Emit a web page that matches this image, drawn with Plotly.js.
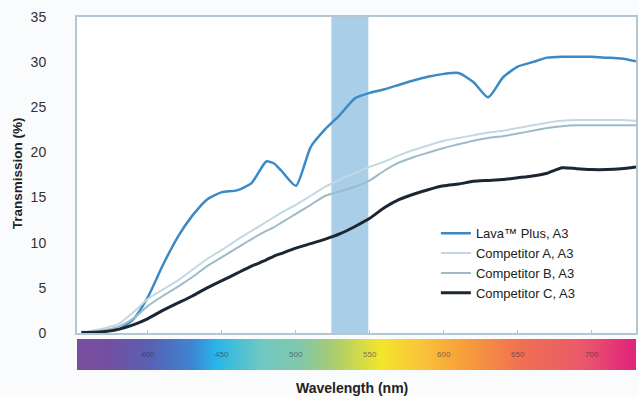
<!DOCTYPE html>
<html>
<head>
<meta charset="utf-8">
<script src="https://cdn.plot.ly/plotly-3.0.1.min.js"></script>
<style>html,body{margin:0;padding:0;background:#fafbfc;}#chart{width:638px;height:396px;}</style>
</head>
<body>
<div id="chart"></div>
<script>
// Wavelength samples (nm)
const wavelengths = [355,360,370,380,390,400,410,420,430,440,450,460,470,480,485,490,500,510,520,530,540,550,560,570,580,590,600,610,620,630,640,650,660,670,680,690,700,710,720,730];
const lavaPlus    = [0.1,0.1,0.2,0.4,1.5,4.0,7.5,10.6,13.0,14.8,15.6,15.8,16.6,19.0,18.8,18.0,16.3,20.6,22.6,24.2,26.0,26.6,27.0,27.5,28.0,28.4,28.7,28.8,27.8,26.1,28.3,29.5,30.0,30.5,30.6,30.6,30.6,30.5,30.4,30.1];
const competitorA = [0.1,0.2,0.5,1.0,2.3,3.8,4.8,5.8,7.0,8.2,9.2,10.3,11.3,12.3,12.8,13.3,14.2,15.2,16.2,17.0,17.7,18.4,19.0,19.7,20.3,20.8,21.3,21.6,21.9,22.2,22.4,22.7,23.0,23.3,23.5,23.6,23.6,23.6,23.6,23.5];
const competitorB = [0.05,0.1,0.3,0.7,1.6,3.0,4.1,5.1,6.2,7.4,8.4,9.4,10.4,11.3,11.7,12.2,13.2,14.2,15.2,15.7,16.2,16.9,18.0,18.9,19.5,20.0,20.5,20.9,21.3,21.6,21.8,22.1,22.4,22.7,22.9,23.0,23.0,23.0,23.0,23.0];
const competitorC = [0.05,0.05,0.15,0.4,0.9,1.6,2.5,3.3,4.1,5.0,5.8,6.6,7.4,8.1,8.5,8.8,9.4,9.9,10.4,11.0,11.8,12.7,13.9,14.8,15.4,15.9,16.3,16.5,16.8,16.9,17.0,17.2,17.4,17.7,18.3,18.2,18.1,18.1,18.2,18.4];

const seriesNames = ['Lava™ Plus, A3','Competitor A, A3','Competitor B, A3','Competitor C, A3'];
const yTicks = [0,5,10,15,20,25,30,35];
const barTicks = [400,450,500,550,600,650,700];
const barTickLabels = ['400','450','500','550','600','650','700'];
const highlightBand = [524,549];

// Spectrum bar colour stops
const specNm = [352,372,400,430,446,476,503,524,557,584,611,652,692,730];
const specColors = ['#7a4e9e','#734fa2','#5a5fb2','#3d86d2','#28b6e8','#6fc8c2','#82c8aa','#a6cc72','#f3e52c','#f9c43a','#f8a13a','#f07052','#eb5a6a','#e0217e'];

const xMin = 352, xMax = 730;
const specX = [];
for (let w = xMin; w <= xMax; w += 1) specX.push(w);
const colorscale = specNm.map((n, i) => [(n - xMin) / (xMax - xMin), specColors[i]]);

const font = 'Liberation Sans, Arial, sans-serif';

const traces = [
  {x: wavelengths, y: competitorA, name: seriesNames[1], mode: 'lines', line: {color: '#c4d8e2', width: 2, shape: 'spline', smoothing: 0.6}},
  {x: wavelengths, y: competitorB, name: seriesNames[2], mode: 'lines', line: {color: '#9dbaca', width: 2, shape: 'spline', smoothing: 0.6}},
  {x: wavelengths, y: competitorC, name: seriesNames[3], mode: 'lines', line: {color: '#1b2733', width: 3, shape: 'spline', smoothing: 0.6}},
  {x: wavelengths, y: lavaPlus, name: seriesNames[0], mode: 'lines', line: {color: '#3b8ac6', width: 2.5, shape: 'spline', smoothing: 0.6}},
  {type: 'heatmap', x: specX, y: [0, 1], z: [specX, specX], colorscale: colorscale, zmin: xMin, zmax: xMax,
   zsmooth: 'best', showscale: false, hoverinfo: 'skip', xaxis: 'x2', yaxis: 'y2', showlegend: false}
];

const annotations = barTicks.map((t, i) => ({
  x: t, y: 0.5, xref: 'x2', yref: 'y2', text: barTickLabels[i], showarrow: false,
  font: {family: font, size: 8, color: 'rgba(40,40,70,0.6)'}
}));
annotations.push({
  xref: 'paper', yref: 'paper', x: -0.107, y: 0.558, text: '<b>Transmission (%)</b>', textangle: -90,
  xanchor: 'center', yanchor: 'middle',
  showarrow: false, font: {family: font, size: 13.5, color: '#222'}
});
annotations.push({
  xref: 'paper', yref: 'paper', x: 0.492, y: -0.051, text: '<b>Wavelength (nm)</b>',
  xanchor: 'center', yanchor: 'middle',
  showarrow: false, font: {family: font, size: 14, color: '#222'}
});

const layout = {
  width: 638, height: 396,
  margin: {l: 77, r: 2, t: 17, b: 26},
  paper_bgcolor: '#fafbfc', plot_bgcolor: '#ffffff',
  showlegend: true,
  legend: {x: 0.642, y: 0.43, xanchor: 'left', yanchor: 'top', bgcolor: 'rgba(0,0,0,0)',
           font: {family: font, size: 13, color: '#222'}, traceorder: 'normal', tracegroupgap: 0},
  xaxis: {range: [xMin, xMax], showline: true, linecolor: '#b6c6d0', linewidth: 2, mirror: true,
          showgrid: false, zeroline: false, ticks: 'inside', ticklen: 3, tickcolor: '#b6c6d0',
          tickvals: barTicks, showticklabels: false, anchor: 'y'},
  yaxis: {range: [0, 35], domain: [0.1048, 1], tickvals: yTicks, showline: true, linecolor: '#b6c6d0',
          linewidth: 2, mirror: true, showgrid: false, zeroline: false, ticks: '',
          ticklabelstandoff: 26, tickfont: {family: font, size: 14, color: '#333'}},
  xaxis2: {matches: 'x', anchor: 'y2', visible: false},
  yaxis2: {range: [0, 1], domain: [0, 0.0878], visible: false, anchor: 'x2'},
  shapes: [{type: 'rect', xref: 'x', yref: 'y', x0: highlightBand[0], x1: highlightBand[1], y0: 0, y1: 35,
            fillcolor: '#a9cfe8', line: {width: 0}, layer: 'below'}],
  annotations: annotations
};

// Legend order: Lava first
const order = [3, 0, 1, 2, 4];
Plotly.newPlot('chart', order.map(i => traces[i]), layout, {displayModeBar: false, staticPlot: true});
</script>
</body>
</html>
